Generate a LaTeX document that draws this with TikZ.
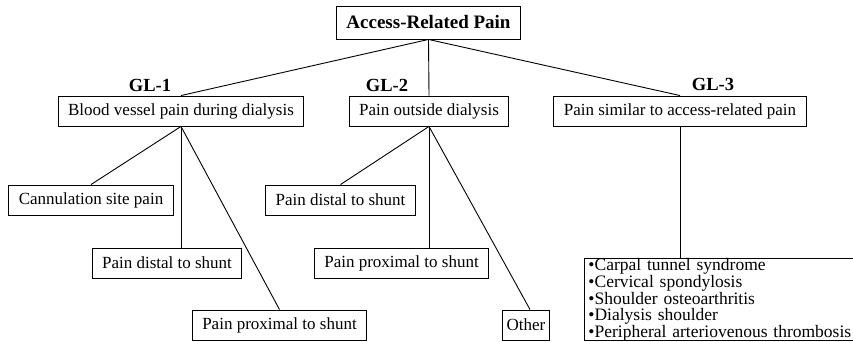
\documentclass[tikz,border=0pt]{standalone}
\usepackage{fontspec}
\setmainfont{Liberation Serif}
\begin{document}
\begin{tikzpicture}[x=1pt,y=-1pt,
  box/.style={draw,line width=0.9pt,inner xsep=10pt,inner ysep=0pt,minimum height=30pt,font=\fontsize{17}{19}\selectfont},
  gl/.style={font=\fontsize{18.5}{20}\selectfont\bfseries,inner sep=0pt},
  conn/.style={line width=0.9pt}]
\useasboundingbox (0,0) rectangle (853,342);
\node[box,minimum height=33pt,font=\fontsize{19}{21}\selectfont\bfseries] (root) at (428.5,22.5) {Access-Related Pain};
\node[box] (g1) at (181,111) {Blood vessel pain during dialysis};
\node[box] (g2) at (429,111) {Pain outside dialysis};
\node[box] (g3) at (680,111) {Pain similar to access-related pain};
\node[gl] (l1) at (150,85.5) {GL-1};
\node[gl] (l2) at (387,85.5) {GL-2};
\node[gl] (l3) at (713,84.5) {GL-3};
\node[box] (a1) at (91,200) {Cannulation site pain};
\node[box] (a2) at (167,263) {Pain distal to shunt};
\node[box] (a3) at (279.5,325) {Pain proximal to shunt};
\node[box] (b1) at (340.5,200) {Pain distal to shunt};
\node[box] (b2) at (401.5,263) {Pain proximal to shunt};
\node[box,inner xsep=4pt] (b3) at (526,325) {Other};
\node[box,anchor=north west,inner xsep=4pt,minimum height=82pt,text width=272pt,align=left,font=\fontsize{17.5}{15.8}\selectfont] (c1) at (584,258) {\textbullet Carpal tunnel syndrome\\\textbullet Cervical spondylosis\\\textbullet Shoulder osteoarthritis\\\textbullet Dialysis shoulder\\\textbullet Peripheral arteriovenous thrombosis};
\draw[conn] (root.south) -- (g1.north);
\draw[conn] (root.south) -- (g2.north);
\draw[conn] (root.south) -- (g3.north);
\draw[conn] (g1.south) -- (a1.north);
\draw[conn] (g1.south) -- (g1.south |- a2.north);
\draw[conn] (g1.south) -- (a3.north);
\draw[conn] (g2.south) -- (b1.north);
\draw[conn] (g2.south) -- (g2.south |- b2.north);
\draw[conn] (g2.south) -- ([xshift=4pt]b3.north);
\draw[conn] (g3.south) -- (g3.south |- c1.north);
\end{tikzpicture}
\end{document}
